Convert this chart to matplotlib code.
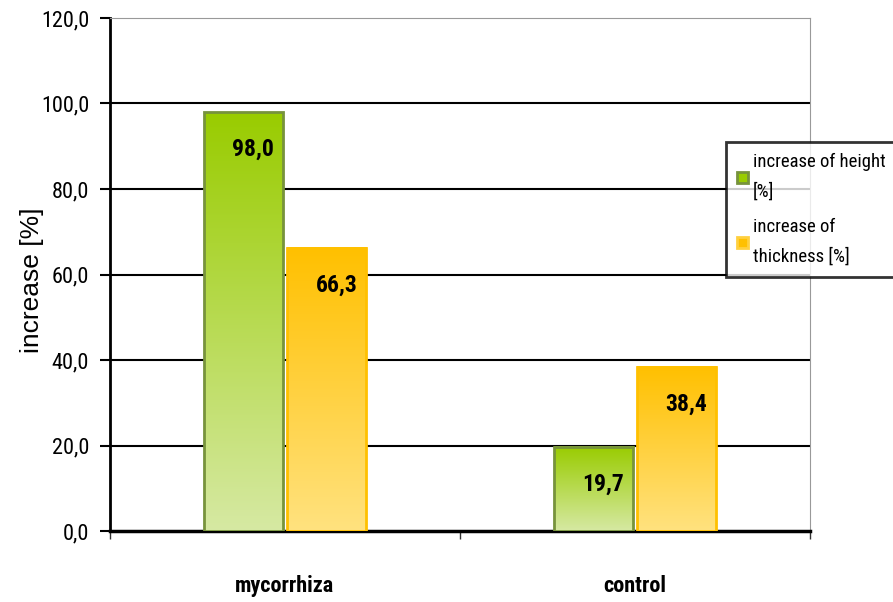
import numpy as np
import matplotlib
matplotlib.use("Agg")
import matplotlib.pyplot as plt
from matplotlib.colors import LinearSegmentedColormap
from matplotlib.patches import Rectangle

categories = ["mycorrhiza", "control"]
series_names = ["increase of height\n[%]", "increase of\nthickness [%]"]
height_vals = [98.0, 19.7]
thickness_vals = [66.3, 38.4]
yticks = [0, 20, 40, 60, 80, 100, 120]
ylabel = "increase [%]"

narrow = ["Roboto Condensed", "DejaVu Sans"]
regular = ["Liberation Sans", "DejaVu Sans"]

fig = plt.figure(figsize=(8.93, 6.02), dpi=100)
ax = fig.add_axes([110/893, 71/602, 700/893, 513/602])

x = np.arange(len(categories))
w = 0.226
gap = 0.006
pos_h = x - w/2 - gap
pos_t = x + w/2 + gap

green_cmap = LinearSegmentedColormap.from_list("g", ["#d6e9a3", "#99cc00"])
orange_cmap = LinearSegmentedColormap.from_list("o", ["#ffe27f", "#ffc000"])
grad = np.linspace(0, 1, 256).reshape(-1, 1)

def draw(positions, vals, cmap, edge):
    bars = ax.bar(positions, vals, w, color="none", edgecolor=edge, linewidth=2.0, zorder=4)
    for b in bars:
        x0, y0 = b.get_x(), b.get_y()
        bw, bh = b.get_width(), b.get_height()
        ax.imshow(grad, cmap=cmap, origin="lower", aspect="auto",
                  extent=[x0, x0 + bw, y0, y0 + bh], zorder=3)
    return bars

bh = draw(pos_h, height_vals, green_cmap, "#77933c")
bt = draw(pos_t, thickness_vals, orange_cmap, "#ffc000")

for bars, vals in ((bh, height_vals), (bt, thickness_vals)):
    for b, v in zip(bars, vals):
        ax.annotate(f"{v:.1f}".replace(".", ","),
                    (b.get_x() + b.get_width()/2, v),
                    xytext=(7, -27), textcoords="offset points",
                    ha="center", va="center", fontsize=17, fontweight="bold",
                    family=narrow, zorder=6)

ax.set_xlim(-0.5, 1.5)
ax.set_ylim(0, 120)
ax.set_yticks(yticks)
ax.set_yticklabels([f"{t:.1f}".replace(".", ",") for t in yticks],
                   fontsize=16, family=narrow)
ax.set_xticks([-0.5, 0.5, 1.5])
ax.set_xticklabels([])
ax.set_xticks(x, minor=True)
ax.set_xticklabels(categories, minor=True, fontsize=16, fontweight="bold", family=narrow)
ax.tick_params(axis="x", which="minor", length=0, pad=32)
ax.tick_params(axis="x", which="major", length=6, width=1, color="#333333")
ax.tick_params(axis="y", length=7, width=1.5, pad=8)

for g in yticks[1:-1]:
    ax.axhline(g, color="black", linewidth=1.5, zorder=1)

ax.set_ylabel(ylabel, fontsize=19, family=regular)
ax.yaxis.set_label_coords(-0.094, 0.489)
ax.spines["left"].set_linewidth(2)
ax.spines["bottom"].set_linewidth(2.5)
ax.spines["top"].set_color("#999999")
ax.spines["right"].set_color("#999999")

# legend
handles = [Rectangle((0, 0), 1, 1, facecolor="#99cc00", edgecolor="#77933c", linewidth=2),
           Rectangle((0, 0), 1, 1, facecolor="#ffc000", edgecolor="#ffd040", linewidth=2)]
leg = fig.legend(handles, series_names, loc="upper left",
                 bbox_to_anchor=(726/893, 1 - 142/602), frameon=True,
                 fancybox=False, borderpad=0.6, handlelength=0.55, handleheight=0.55,
                 handletextpad=0.3, labelspacing=0.95, borderaxespad=0,
                 prop={"family": narrow, "size": 13.5})
for t in leg.get_texts():
    t.set_linespacing(1.75)
leg.get_frame().set_edgecolor("black")
leg.get_frame().set_linewidth(2)
leg.set_zorder(10)

fig.savefig("out.png", dpi=100)
